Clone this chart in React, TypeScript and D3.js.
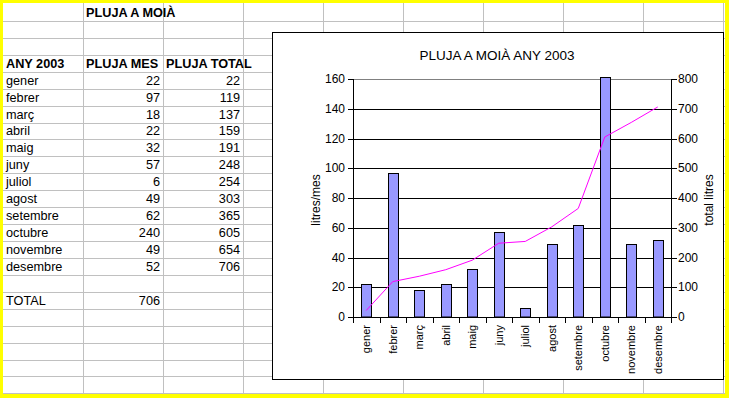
import React from 'react';
import * as d3 from 'd3';

const months = ['gener', 'febrer', 'març', 'abril', 'maig', 'juny', 'juliol', 'agost', 'setembre', 'octubre', 'novembre', 'desembre'];
const plujaMes = [22, 97, 18, 22, 32, 57, 6, 49, 62, 240, 49, 52];
const plujaTotal = [22, 119, 137, 159, 191, 248, 254, 303, 365, 605, 654, 706];
const totalAny = 706;
const leftTicks = [0, 20, 40, 60, 80, 100, 120, 140, 160];
const rightTicks = [0, 100, 200, 300, 400, 500, 600, 700, 800];

const W = 729;
const H = 398;
const font = '"Liberation Sans", Arial, sans-serif';

// spreadsheet grid
const colW = 80;
const colX0 = 3;
const rowH = 16.93;
const rowY0 = 4;
const nCols = 9;
const nRows = 23;

// chart box + plot area
const box = { x: 272, y: 32, w: 451, h: 347 };
const plot = { left: 353, right: 671, top: 79, bottom: 317 };

const rowBase = (r: number) => rowY0 + rowH * (r + 1) - 4;

const App = () => {
  const x = d3.scaleBand<string>().domain(months).range([plot.left, plot.right]).padding(0);
  const yL = d3.scaleLinear().domain([0, 160]).range([plot.bottom, plot.top]);
  const yR = d3.scaleLinear().domain([0, 800]).range([plot.bottom, plot.top]);
  const barW = x.bandwidth() * 0.37;
  const cx = (m: string) => (x(m) as number) + x.bandwidth() / 2;

  const line = d3.line<number>()
    .x((_, i) => cx(months[i]))
    .y(d => yR(d));

  const cellText = { fontFamily: font, fontSize: 12.7, fill: '#000' };
  const boldText = { ...cellText, fontWeight: 'bold' as const };

  return (
    <svg width={W} height={H} style={{ position: 'absolute', left: 0, top: 0 }}>
      <rect x={0} y={0} width={W} height={H} fill="#fff" />

      {/* grid lines of the sheet */}
      {d3.range(1, nCols + 1).map(k => (
        <line key={'c' + k} x1={colX0 + colW * k + 0.5} x2={colX0 + colW * k + 0.5} y1={0} y2={H} stroke="#c0c0c0" />
      ))}
      {d3.range(1, nRows + 1).map(k => (
        <line key={'r' + k} x1={0} x2={W} y1={Math.round(rowY0 + rowH * k) + 0.5} y2={Math.round(rowY0 + rowH * k) + 0.5} stroke="#c0c0c0" />
      ))}

      {/* sheet contents */}
      <text x={86} y={rowBase(0)} style={boldText}>PLUJA A MOIÀ</text>
      <text x={6} y={rowBase(3)} style={boldText}>ANY 2003</text>
      <text x={86} y={rowBase(3)} style={boldText}>PLUJA MES</text>
      <text x={166} y={rowBase(3)} style={boldText}>PLUJA TOTAL</text>
      {months.map((m, i) => (
        <g key={m}>
          <text x={6} y={rowBase(4 + i)} style={cellText}>{m}</text>
          <text x={160} y={rowBase(4 + i)} textAnchor="end" style={cellText}>{plujaMes[i]}</text>
          <text x={240} y={rowBase(4 + i)} textAnchor="end" style={cellText}>{plujaTotal[i]}</text>
        </g>
      ))}
      <text x={6} y={rowBase(17)} style={cellText}>TOTAL</text>
      <text x={160} y={rowBase(17)} textAnchor="end" style={cellText}>{totalAny}</text>

      {/* chart */}
      <rect x={box.x + 0.5} y={box.y + 0.5} width={box.w} height={box.h} fill="#fff" stroke="#000" />
      <text x={497} y={60} textAnchor="middle" style={{ fontFamily: font, fontSize: 13.5 }}>PLUJA A MOIÀ ANY 2003</text>

      {leftTicks.filter(t => t > 0).map(t => (
        <line key={'g' + t} x1={plot.left} x2={plot.right} y1={Math.round(yL(t)) + 0.5} y2={Math.round(yL(t)) + 0.5}
          stroke={t === 160 ? '#808080' : '#000'} />
      ))}

      {months.map((m, i) => {
        const top = Math.max(yL(plujaMes[i]), plot.top - 2);
        return (
          <rect key={'b' + m} x={Math.round(cx(m) - barW / 2) + 0.5} y={Math.round(top) + 0.5}
            width={Math.round(barW)} height={Math.round(plot.bottom - top) - 0.5}
            fill="#9999ff" stroke="#000" />
        );
      })}

      <path d={line(plujaTotal) as string} fill="none" stroke="#ff00ff" strokeWidth={1} />

      {/* left axis */}
      <line x1={plot.left + 0.5} x2={plot.left + 0.5} y1={plot.top} y2={plot.bottom} stroke="#000" />
      {leftTicks.map(t => (
        <g key={'lt' + t}>
          <line x1={plot.left - 5} x2={plot.left} y1={Math.round(yL(t)) + 0.5} y2={Math.round(yL(t)) + 0.5} stroke="#000" />
          <text x={345} y={yL(t)} dy="0.35em" textAnchor="end" style={{ fontFamily: font, fontSize: 12 }}>{t}</text>
        </g>
      ))}

      {/* right axis */}
      <line x1={plot.right + 0.5} x2={plot.right + 0.5} y1={plot.top} y2={plot.bottom} stroke="#000" />
      {rightTicks.map(t => (
        <g key={'rt' + t}>
          <line x1={plot.right} x2={plot.right + 6} y1={Math.round(yR(t)) + 0.5} y2={Math.round(yR(t)) + 0.5} stroke="#000" />
          <text x={678} y={yR(t)} dy="0.35em" style={{ fontFamily: font, fontSize: 12 }}>{t}</text>
        </g>
      ))}

      {/* x axis */}
      <line x1={plot.left} x2={plot.right + 1} y1={plot.bottom + 0.5} y2={plot.bottom + 0.5} stroke="#000" />
      {months.map(m => (
        <line key={'xt' + m} x1={Math.round(x(m) as number) + 0.5} x2={Math.round(x(m) as number) + 0.5}
          y1={plot.bottom} y2={plot.bottom + 6} stroke="#000" />
      ))}
      <line x1={plot.right + 0.5} x2={plot.right + 0.5} y1={plot.bottom} y2={plot.bottom + 6} stroke="#000" />
      {months.map(m => (
        <text key={'xl' + m} transform={`translate(${cx(m)},325) rotate(-90)`} dy="0.35em" textAnchor="end"
          style={{ fontFamily: font, fontSize: 11 }}>{m}</text>
      ))}

      <text transform="translate(316,200) rotate(-90)" dy="0.35em" textAnchor="middle" style={{ fontFamily: font, fontSize: 12 }}>litres/mes</text>
      <text transform="translate(709,200) rotate(-90)" dy="0.35em" textAnchor="middle" style={{ fontFamily: font, fontSize: 12 }}>total litres</text>

      {/* yellow frame */}
      <rect x={1.5} y={1.5} width={W - 3} height={H - 3} fill="none" stroke="#ffff00" strokeWidth={3} />
      <rect x={725} y={0} width={4} height={H} fill="#ffff00" />
      <rect x={0} y={394} width={W} height={4} fill="#ffff00" />
    </svg>
  );
};

export default App;
